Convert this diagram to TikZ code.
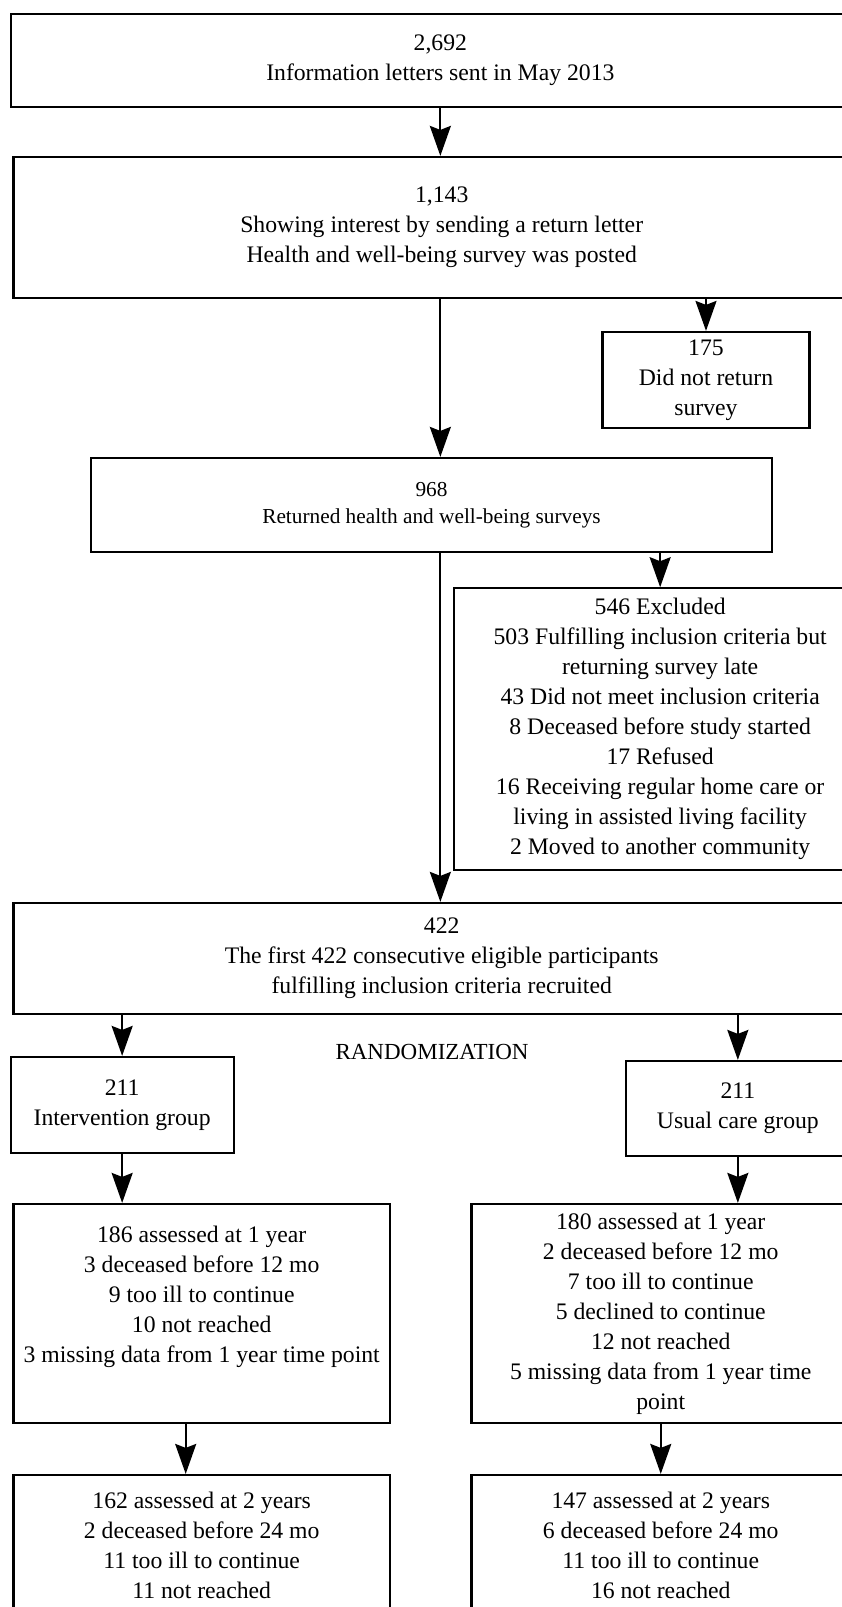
\documentclass[tikz,border=0pt]{standalone}
\usepackage{fontspec}
\setmainfont{Liberation Serif}
\usepackage{tikz}
\usetikzlibrary{arrows.meta}
\tikzstyle{box}=[rectangle, draw=black, line width=2.2pt, align=center, inner sep=0pt, font=\fontsize{23.7}{30}\selectfont]
\tikzstyle{smallbox} = [box, font=\fontsize{21.3}{27}\selectfont]
\tikzstyle{label} = [font=\fontsize{23}{30}\selectfont, inner sep=0pt]
\tikzstyle{arrow} = [draw, line width=2pt, -{Stealth[length=30pt, width=21pt, inset=4pt]}, black]

\begin{document}
\begin{tikzpicture}[x=1pt, y=-1pt]

	\useasboundingbox (0,0) rectangle (842,1607);
	\clip (0,0) rectangle (842,1607);

	% mailing and survey
	\node[box, minimum width=859.3pt, minimum height=92.7pt] (letters) at (440.35, 60.35) {2,692\\Information letters sent in May 2013};
	\node[box, minimum width=856.6pt, minimum height=141pt] (interest) at (441.7, 227.5) {1,143\\Showing interest by sending a return letter\\Health and well-being survey was posted};
	\node[box, minimum width=207pt, minimum height=96pt] (noreturn) at (706, 380) {175\\Did not return\\survey};
	\node[smallbox, minimum width=681pt, minimum height=94pt] (returned) at (431.5, 505) {968\\Returned health and well-being surveys};
	\node[box, minimum width=411.7pt, minimum height=281.7pt] (excluded) at (660.15, 729.15) {546 Excluded\\503 Fulfilling inclusion criteria but\\returning survey late\\43 Did not meet inclusion criteria\\8 Deceased before study started\\17 Refused\\16 Receiving regular home care or\\living in assisted living facility\\2 Moved to another community};

	% recruitment
	\node[box, minimum width=856.6pt, minimum height=111pt] (recruited) at (441.7, 958.5) {422\\The first 422 consecutive eligible participants\\fulfilling inclusion criteria recruited};
	\node[label] (random) at (432, 1052) {RANDOMIZATION};
	\node[box, minimum width=222.9pt, minimum height=96pt] (interv) at (122.15, 1105) {211\\Intervention group};
	\node[box, minimum width=224.3pt, minimum height=95pt] (usual) at (737.85, 1108.5) {211\\Usual care group};

	% follow-up
	\node[box, minimum width=376.6pt, minimum height=219pt] (interv_1) at (201.7, 1313.5) {186 assessed at 1 year\\3 deceased before 12 mo\\9 too ill to continue\\10 not reached\\3 missing data from 1 year time point\\[8pt]\mbox{}};
	\node[box, minimum width=378.5pt, minimum height=219pt] (usual_1) at (660.75, 1313.5) {180 assessed at 1 year\\2 deceased before 12 mo\\7 too ill to continue\\5 declined to continue\\12 not reached\\5 missing data from 1 year time\\point};
	\node[box, minimum width=376.6pt, minimum height=140pt] (interv_2) at (201.7, 1545) {162 assessed at 2 years\\2 deceased before 24 mo\\11 too ill to continue\\11 not reached};
	\node[box, minimum width=378.5pt, minimum height=140pt] (usual_2) at (660.75, 1545) {147 assessed at 2 years\\6 deceased before 24 mo\\11 too ill to continue\\16 not reached};

	\draw[arrow] (letters.south) -- (letters.south |- interest.north);
	\draw[arrow] (letters.south |- interest.south) -- (letters.south |- returned.north);
	\draw[arrow] (noreturn.north |- interest.south) -- (noreturn.north);
	\draw[arrow] (letters.south |- returned.south) -- (letters.south |- recruited.north);
	\draw[arrow] (excluded.north |- returned.south) -- (excluded.north);

	\foreach \target in {interv, usual}{
		\draw[arrow] (\target.north |- recruited.south) -- (\target.north);
	}
	\draw[arrow] (interv.south) -- (interv.south |- interv_1.north);
	\draw[arrow] (usual.south) -- (usual.south |- usual_1.north);
	\draw[arrow] ([xshift=-16pt]interv_1.south) -- ([xshift=-16pt]interv_2.north);
	\draw[arrow] (usual_1.south) -- (usual_2.north);

\end{tikzpicture}
\end{document}
